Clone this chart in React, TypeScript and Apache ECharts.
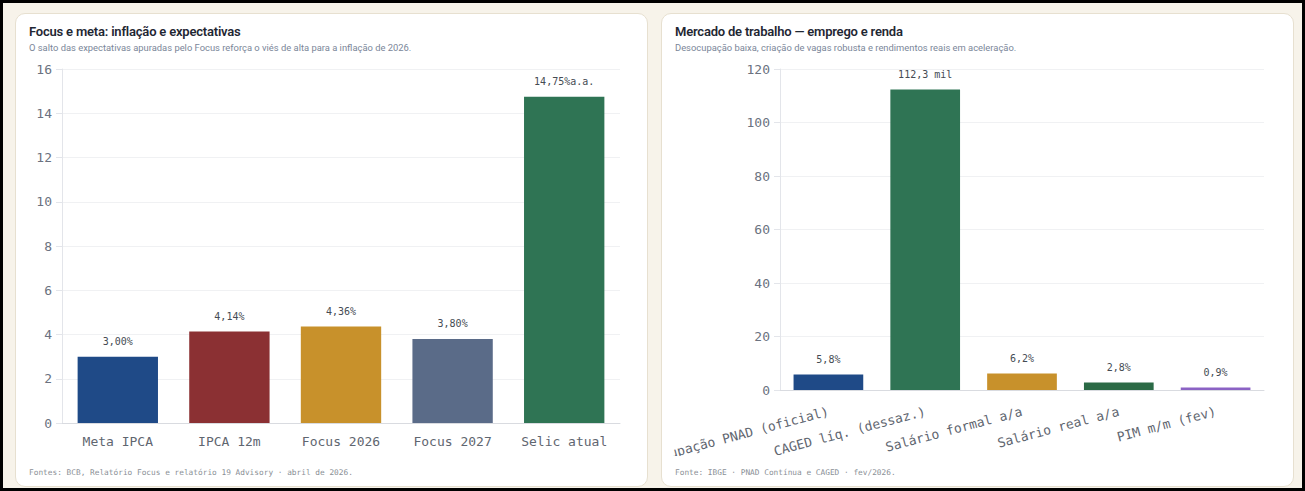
import React, { useEffect, useRef } from "react";
import * as echarts from "echarts";

const inflCategories = ["Meta IPCA", "IPCA 12m", "Focus 2026", "Focus 2027", "Selic atual"];
const inflValues = [3.0, 4.14, 4.36, 3.8, 14.75];
const inflSuffix = ["", "", "", "", "a.a."];
const inflColors = ["#1f4a87", "#8b3033", "#c8912b", "#5a6b88", "#2f7454"];

const laborCategories = [
  "Desocupação PNAD (oficial)",
  "CAGED líq. (dessaz.)",
  "Salário formal a/a",
  "Salário real a/a",
  "PIM m/m (fev)",
];
const laborValues = [5.8, 112.3, 6.2, 2.8, 0.9];
const laborUnits = ["%", " mil", "%", "%", "%"];
const laborColors = ["#1f4a87", "#2f7454", "#c8912b", "#2b6a46", "#8b62c4"];

const MONO = "'DejaVu Sans Mono', 'Liberation Mono', monospace";
const SANS = "Roboto, 'Noto Sans', sans-serif";

function fmt(v: number, digits: number) {
  return v.toFixed(digits).replace(".", ",");
}

function baseOption(
  cats: string[],
  vals: number[],
  colors: string[],
  labels: string[],
  grid: any,
  yMax: number,
  yInterval: number,
  rotate: number,
  xMargin: number
) {
  return {
    animation: false,
    grid: { ...grid, containLabel: false, outerBoundsMode: "none" },
    xAxis: {
      type: "category",
      data: cats,
      axisLine: { show: true, lineStyle: { color: "#d9dbe0", width: 1 } },
      axisTick: { show: false },
      axisLabel: {
        interval: 0,
        rotate,
        margin: xMargin,
        fontFamily: MONO,
        fontSize: 13,
        color: "#5f6670",
      },
    },
    yAxis: {
      type: "value",
      min: 0,
      max: yMax,
      interval: yInterval,
      axisLine: { show: true, lineStyle: { color: "#e3e5ea", width: 1 } },
      axisTick: { show: true, length: 6, lineStyle: { color: "#e3e5ea" } },
      splitLine: { show: true, lineStyle: { color: "#f0f1f3", width: 1 } },
      axisLabel: {
        margin: 10,
        fontFamily: MONO,
        fontSize: 13,
        color: "#6b7280",
      },
    },
    series: [
      {
        type: "bar",
        barCategoryGap: "28%",
        data: vals.map((v, i) => ({
          value: v,
          itemStyle: { color: colors[i] },
        })),
        label: {
          show: true,
          position: "top",
          distance: 10,
          fontFamily: MONO,
          fontSize: 10,
          color: "#454b53",
          formatter: (p: any) => labels[p.dataIndex],
        },
      },
    ],
  };
}

function Chart({ option, style }: { option: any; style: React.CSSProperties }) {
  const ref = useRef<HTMLDivElement>(null);
  useEffect(() => {
    if (!ref.current) return;
    const chart = echarts.init(ref.current, undefined, { renderer: "svg" });
    chart.setOption(option);
    return () => chart.dispose();
  }, [option]);
  return <div ref={ref} style={style} />;
}

function Card({
  left,
  title,
  subtitle,
  footer,
  children,
}: {
  left: number;
  title: string;
  subtitle: string;
  footer: string;
  children: React.ReactNode;
}) {
  return (
    <div
      style={{
        position: "absolute",
        left,
        top: 13,
        width: 633,
        height: 474,
        boxSizing: "border-box",
        background: "#ffffff",
        border: "1px solid #e7e0d0",
        borderRadius: 10,
        overflow: "hidden",
      }}
    >
      <div
        style={{
          position: "absolute",
          left: 13,
          top: 10,
          fontFamily: SANS,
          fontWeight: 600,
          fontSize: 13,
          color: "#1f2733",
          whiteSpace: "nowrap",
          letterSpacing: -0.2,
        }}
      >
        {title}
      </div>
      <div
        style={{
          position: "absolute",
          left: 13,
          top: 28,
          fontFamily: SANS,
          fontSize: 9.4,
          color: "#7a8699",
          whiteSpace: "nowrap",
        }}
      >
        {subtitle}
      </div>
      {children}
      <div
        style={{
          position: "absolute",
          left: 13,
          top: 454,
          fontFamily: MONO,
          fontSize: 7.8,
          color: "#8a8f96",
          whiteSpace: "nowrap",
        }}
      >
        {footer}
      </div>
    </div>
  );
}

const leftOption = baseOption(
  inflCategories,
  inflValues,
  inflColors,
  inflValues.map((v, i) => fmt(v, 2) + "%" + inflSuffix[i]),
  { left: 34, right: 17, top: 8, bottom: 33 },
  16,
  2,
  0,
  12
);

const rightOption = baseOption(
  laborCategories,
  laborValues,
  laborColors,
  laborValues.map((v, i) => fmt(v, 1) + laborUnits[i]),
  { left: 107, right: 18, top: 8, bottom: 66 },
  120,
  20,
  15,
  21
);

export default function App() {
  return (
    <div
      style={{
        position: "fixed",
        left: 0,
        top: 0,
        width: 1305,
        height: 491,
        background: "#f7f3ea",
        overflow: "hidden",
      }}
    >
      <Card
        left={15}
        title="Focus e meta: inflação e expectativas"
        subtitle="O salto das expectativas apuradas pelo Focus reforça o viés de alta para a inflação de 2026."
        footer="Fontes: BCB, Relatório Focus e relatório 19 Advisory · abril de 2026."
      >
        <Chart option={leftOption} style={{ position: "absolute", left: 12, top: 47, width: 609, height: 395 }} />
      </Card>
      <Card
        left={661}
        title="Mercado de trabalho — emprego e renda"
        subtitle="Desocupação baixa, criação de vagas robusta e rendimentos reais em aceleração."
        footer="Fonte: IBGE · PNAD Contínua e CAGED · fev/2026."
      >
        <Chart option={rightOption} style={{ position: "absolute", left: 11, top: 47, width: 609, height: 395 }} />
      </Card>
      <div
        style={{
          position: "absolute",
          left: 0,
          top: 0,
          width: 1305,
          height: 491,
          boxSizing: "border-box",
          border: "3px solid #000",
          pointerEvents: "none",
        }}
      />
    </div>
  );
}
